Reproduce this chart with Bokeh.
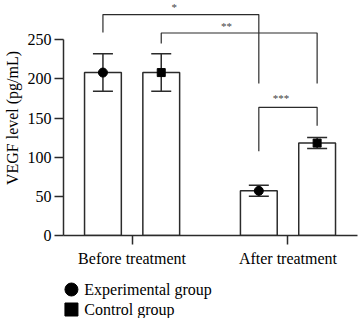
from bokeh.plotting import figure
from bokeh.layouts import column
from bokeh.models import (ColumnDataSource, Whisker, TeeHead, FixedTicker, Range1d,
                          LabelSet)
from bokeh.embed import file_html
from bokeh.resources import INLINE

# ---- data ----
groups = ["Before treatment", "After treatment"]
series = ["Experimental group", "Control group"]
markers = ["circle", "square"]
exp_mean = [208, 57]
exp_err = [24, 7]
ctl_mean = [208, 118]
ctl_err = [24, 7]

# significance comparisons: (left bar idx, right bar idx), bracket top, feet heights
cmp_left = [0, 1, 2]
cmp_right = [2, 3, 3]
cmp_top = [282, 258.5, 163.6]
cmp_left_foot = [259, 245, 107.5]
cmp_right_foot = [194, 194, 140]
cmp_label = ["*", "**", "***"]
cmp_label_x = [0.27, 0.605, 0.955]
cmp_label_y = [292, 268, 175]

FONT = "Liberation Serif"
TEXT_FONT = "serif"
LINE = "#2b2b2b"

offset = 0.187
width = 0.236
group_x = [0, 1]

bar_x = []
bar_y = []
bar_err = []
for gi, gx in enumerate(group_x):
    bar_x += [gx - offset, gx + offset]
    bar_y += [exp_mean[gi], ctl_mean[gi]]
    bar_err += [exp_err[gi], ctl_err[gi]]

src = ColumnDataSource(dict(
    x=bar_x, top=bar_y,
    upper=[m + e for m, e in zip(bar_y, bar_err)],
    lower=[m - e for m, e in zip(bar_y, bar_err)],
))
exp_src = ColumnDataSource(dict(x=[g - offset for g in group_x], y=exp_mean))
ctl_src = ColumnDataSource(dict(x=[g + offset for g in group_x], y=ctl_mean))

FRAME_L, FRAME_R = 61, 357

p = figure(width=358, height=270, output_backend="svg", toolbar_location=None,
           x_range=Range1d(-0.44, 1.446), y_range=Range1d(0, 300),
           min_border_left=FRAME_L, min_border_right=358 - FRAME_R, min_border_top=0,
           min_border_bottom=35)
p.outline_line_color = None
p.xgrid.visible = False
p.ygrid.visible = False
p.background_fill_color = "white"

p.vbar(x="x", top="top", width=width, source=src, fill_color="white",
       line_color=LINE, line_width=1.5)

wh = Whisker(source=src, base="x", upper="upper", lower="lower", dimension="height",
             line_color=LINE, line_width=1.5, level="annotation",
             upper_head=TeeHead(size=20, line_color=LINE, line_width=1.5),
             lower_head=TeeHead(size=20, line_color=LINE, line_width=1.5))
p.add_layout(wh)

p.scatter("x", "y", source=exp_src, marker=markers[0], size=9,
          fill_color="black", line_color="black", level="overlay")
p.scatter("x", "y", source=ctl_src, marker=markers[1], size=8,
          fill_color="black", line_color="black", level="overlay")

# brackets
xs, ys = [], []
for li, ri, top, lf, rf in zip(cmp_left, cmp_right, cmp_top, cmp_left_foot, cmp_right_foot):
    xs.append([bar_x[li], bar_x[li], bar_x[ri], bar_x[ri]])
    ys.append([lf, top, top, rf])
p.multi_line(xs, ys, line_color=LINE, line_width=1.2)
star_src = ColumnDataSource(dict(x=cmp_label_x, y=cmp_label_y, text=cmp_label))
p.add_layout(LabelSet(x="x", y="y", text="text", source=star_src,
                      text_font=TEXT_FONT, text_font_size="11px", text_align="center",
                      text_baseline="middle", text_color="#444444"))

# axes
p.yaxis.ticker = FixedTicker(ticks=[0, 50, 100, 150, 200, 250])
p.yaxis.bounds = (0, 250)
p.yaxis.axis_label = "VEGF level (pg/mL)"
p.yaxis.axis_label_text_font = FONT
p.yaxis.axis_label_text_font_style = "normal"
p.yaxis.axis_label_text_font_size = "16px"
p.yaxis.axis_label_standoff = 4
p.yaxis.major_label_text_font = FONT
p.yaxis.major_label_text_font_size = "16px"
p.yaxis.major_label_standoff = 3
p.yaxis.major_tick_out = 9
p.yaxis.major_tick_in = 0
p.yaxis.minor_tick_out = 0
p.yaxis.minor_tick_in = 0

p.xaxis.ticker = FixedTicker(ticks=group_x)
p.xaxis.major_label_overrides = {0: groups[0], 1: groups[1]}
p.xaxis.major_label_text_font = FONT
p.xaxis.major_label_text_font_size = "16px"
p.xaxis.major_label_standoff = 5
p.xaxis.major_tick_out = 9
p.xaxis.major_tick_in = 0
p.xaxis.minor_tick_out = 0
p.xaxis.minor_tick_in = 0

for ax in (p.xaxis[0], p.yaxis[0]):
    ax.axis_line_color = LINE
    ax.axis_line_width = 1.5
    ax.major_tick_line_color = LINE
    ax.major_tick_line_width = 1.5
    ax.major_label_text_color = "black"
    ax.axis_label_text_color = "black"

# legend panel below the chart (x in screen pixels from the left, y from its top)
LEG_H = 48
LEG_MARK_X, LEG_TEXT_X = 69, 82
LEG_ROW_Y0, LEG_ROW_STEP = 19, 20
lg = figure(width=358, height=LEG_H, output_backend="svg", toolbar_location=None,
            x_range=Range1d(FRAME_L, FRAME_R), y_range=Range1d(LEG_H, 0),
            min_border_left=FRAME_L, min_border_right=358 - FRAME_R, min_border_top=0,
            min_border_bottom=0, x_axis_type=None, y_axis_type=None)
lg.outline_line_color = None
lg.xgrid.visible = False
lg.ygrid.visible = False
row_y = [LEG_ROW_Y0 + i * LEG_ROW_STEP for i in range(len(series))]
leg_src = ColumnDataSource(dict(
    mx=[LEG_MARK_X] * len(series), tx=[LEG_TEXT_X] * len(series),
    y=row_y, label=series, marker=markers))
lg.scatter("mx", "y", source=leg_src, marker="marker", size=13,
           fill_color="black", line_color="black")
lg.add_layout(LabelSet(x="tx", y="y", text="label", source=leg_src,
                       text_font=TEXT_FONT, text_font_size="16px", text_baseline="middle",
                       text_align="left", text_color="black"))

layout = column(p, lg, spacing=0)
open("out.html", "w").write(file_html(layout, INLINE))
